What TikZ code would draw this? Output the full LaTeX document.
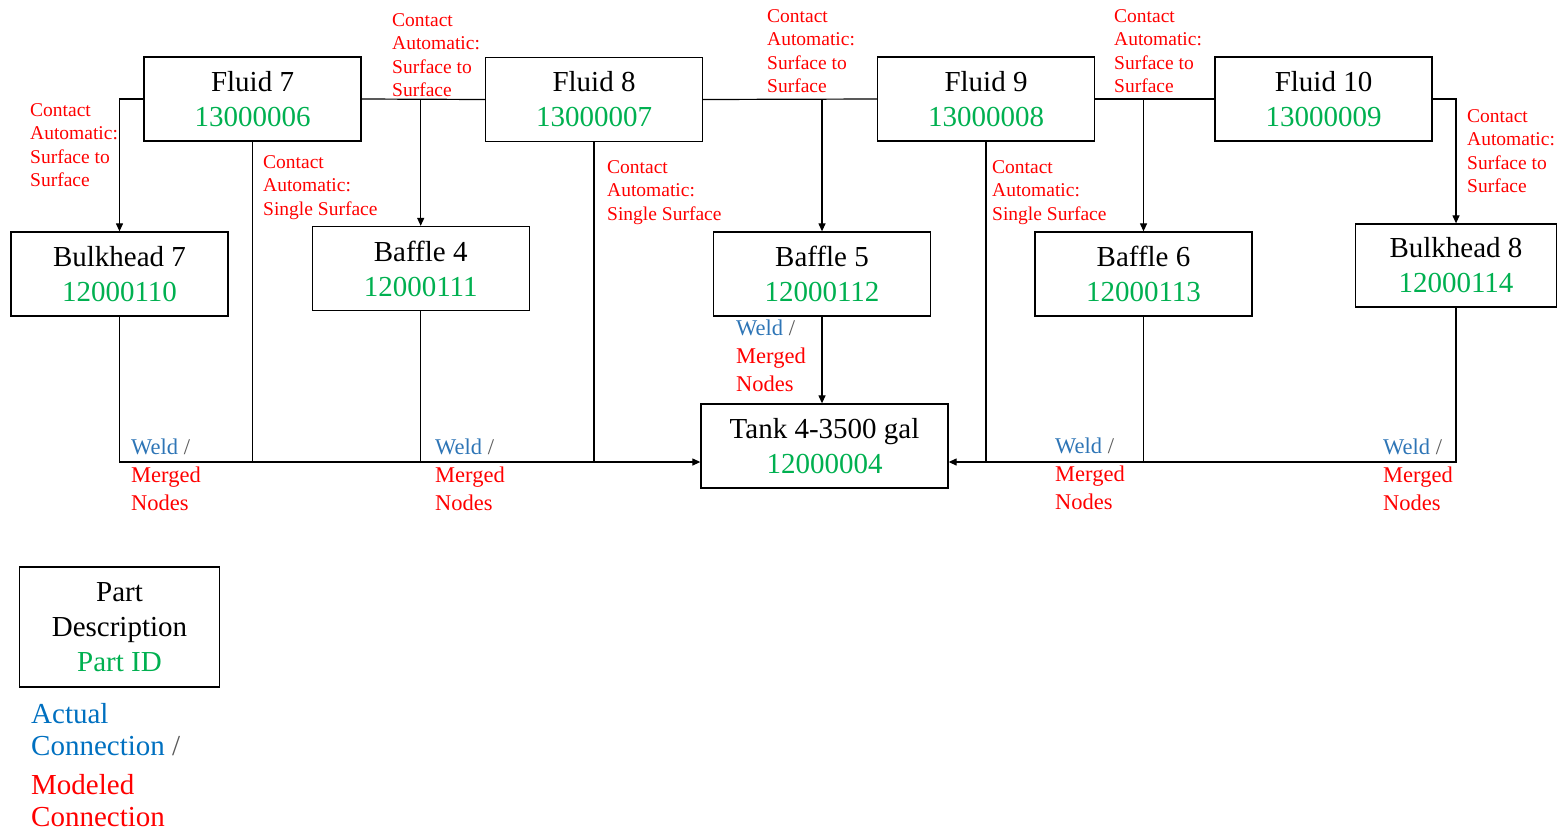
\documentclass[tikz,border=0pt]{standalone}
\usepackage{fontspec}
\setmainfont{Liberation Serif}
\usetikzlibrary{arrows.meta}
\definecolor{idgreen}{HTML}{00B050}
\definecolor{weldblue}{HTML}{2E75B6}
\definecolor{actblue}{HTML}{0070C0}
\definecolor{slashgray}{HTML}{595959}

\begin{document}
\begin{tikzpicture}[x=1pt, y=-1pt, >={Triangle[length=8pt, width=7pt]},
    part/.style={draw, line width=1.3pt, minimum width=217pt,
                 minimum height=84pt, inner sep=0pt, align=center,
                 font=\fontsize{29}{35}\selectfont},
    contact/.style={anchor=north west, inner sep=0pt, align=left,
                    text=red, font=\fontsize{19.5}{23.5}\selectfont},
    weld/.style={anchor=north west, inner sep=0pt, align=left,
                 text=red, font=\fontsize{22.5}{28}\selectfont},
    wire/.style={line width=1.2pt}]
  \useasboundingbox (0,0) rectangle (1562,836);

  \node[part] (f7) at (252.5,99) {Fluid 7\\\textcolor{idgreen}{13000006}};
  \node[part] (f8) at (594,99.5) {Fluid 8\\\textcolor{idgreen}{13000007}};
  \node[part] (f9) at (986,99) {Fluid 9\\\textcolor{idgreen}{13000008}};
  \node[part] (f10) at (1323.5,99) {Fluid 10\\\textcolor{idgreen}{13000009}};

  \node[part] (bh7) at (119.5,274) {Bulkhead 7\\\textcolor{idgreen}{12000110}};
  \node[part] (b4) at (420.7,268.5) {Baffle 4\\\textcolor{idgreen}{12000111}};
  \node[part] (b5) at (822,274) {Baffle 5\\\textcolor{idgreen}{12000112}};
  \node[part] (b6) at (1143.5,274) {Baffle 6\\\textcolor{idgreen}{12000113}};
  \node[part, minimum width=201pt, minimum height=83pt] (bh8) at (1456,265.5)
    {Bulkhead 8\\\textcolor{idgreen}{12000114}};

  \node[part, minimum width=247pt] (tank) at (824.5,446)
    {Tank 4-3500 gal\\\textcolor{idgreen}{12000004}};
  \coordinate (busL) at ([yshift=-16pt]tank.west);
  \coordinate (busR) at ([yshift=-16pt]tank.east);

  \draw[wire, ->] (f7.west) -| (bh7.north);
  \draw[wire] (f7.east) -- (f8.west);
  \draw[wire, ->] (f7.east -| b4.north) -- (b4.north);
  \draw[wire] (f8.east) -- (f9.west);
  \draw[wire, ->] (f8.east -| b5.north) -- (b5.north);
  \draw[wire] (f9.east) -- (f10.west);
  \draw[wire, ->] (f9.east -| b6.north) -- (b6.north);
  \draw[wire, ->] (f10.east) -| (bh8.north);

  \draw[wire, ->] (bh7.south) |- (busL);
  \draw[wire] (f7.south) -- (f7.south |- busL);
  \draw[wire] (b4.south) -- (b4.south |- busL);
  \draw[wire] (f8.south) -- (f8.south |- busL);
  \draw[wire, ->] (b5.south) -- (b5.south |- tank.north);
  \draw[wire, ->] (bh8.south) |- (busR);
  \draw[wire] (f9.south) -- (f9.south |- busR);
  \draw[wire] (b6.south) -- (b6.south |- busR);

  \node[contact] (c1) at (30,103) {Contact\\Automatic:\\Surface to\\Surface};
  \node[contact] (c2) at (392,13) {Contact\\Automatic:\\Surface to\\Surface};
  \node[contact] (c3) at (263,155) {Contact\\Automatic:\\Single Surface};
  \node[contact] (c4) at (767,9) {Contact\\Automatic:\\Surface to\\Surface};
  \node[contact] (c5) at (607,160) {Contact\\Automatic:\\Single Surface};
  \node[contact] (c6) at (1114,9) {Contact\\Automatic:\\Surface to\\Surface};
  \node[contact] (c7) at (992,160) {Contact\\Automatic:\\Single Surface};
  \node[contact] (c8) at (1467,109) {Contact\\Automatic:\\Surface to\\Surface};

  \node[weld] (w1) at (131,439)
    {\textcolor{weldblue}{Weld} \textcolor{slashgray}{/}\\Merged\\Nodes};
  \node[weld] (w2) at (435,439)
    {\textcolor{weldblue}{Weld} \textcolor{slashgray}{/}\\Merged\\Nodes};
  \node[weld] (w3) at (736,320)
    {\textcolor{weldblue}{Weld} \textcolor{slashgray}{/}\\Merged\\Nodes};
  \node[weld] (w4) at (1055,438)
    {\textcolor{weldblue}{Weld} \textcolor{slashgray}{/}\\Merged\\Nodes};
  \node[weld] (w5) at (1383,439)
    {\textcolor{weldblue}{Weld} \textcolor{slashgray}{/}\\Merged\\Nodes};

  % legend
  \node[part, minimum width=200pt, minimum height=120pt] (key) at (119.5,627)
    {Part\\Description\\\textcolor{idgreen}{Part ID}};
  \node[anchor=north west, inner sep=0pt, align=left, text=actblue,
        font=\fontsize{29}{32.5}\selectfont] (act) at (31,703)
    {Actual\\Connection \textcolor{slashgray}{/}};
  \node[anchor=north west, inner sep=0pt, align=left, text=red,
        font=\fontsize{29}{32.5}\selectfont] (mod) at (31,774)
    {Modeled\\Connection};
\end{tikzpicture}
\end{document}
